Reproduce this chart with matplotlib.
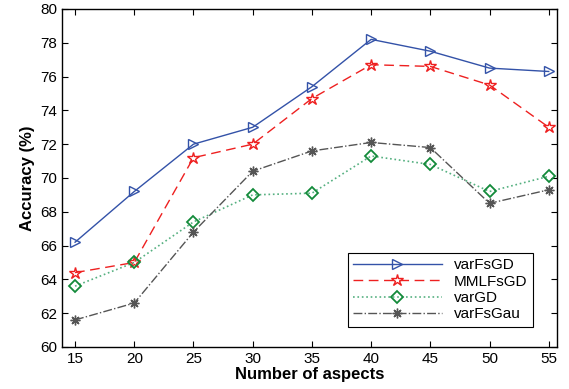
import matplotlib
matplotlib.use("Agg")
import matplotlib.pyplot as plt

aspects = [15, 20, 25, 30, 35, 40, 45, 50, 55]
varFsGD = [66.2, 69.2, 72.0, 73.0, 75.4, 78.2, 77.5, 76.5, 76.3]
MMLFsGD = [64.4, 65.0, 71.2, 72.0, 74.7, 76.7, 76.6, 75.5, 73.0]
varGD = [63.6, 65.0, 67.4, 69.0, 69.1, 71.3, 70.8, 69.2, 70.1]
varFsGau = [61.6, 62.6, 66.8, 70.4, 71.6, 72.1, 71.8, 68.5, 69.3]
yticks = [60, 62, 64, 66, 68, 70, 72, 74, 76, 78, 80]

plt.rcParams['font.family'] = ['Liberation Sans', 'DejaVu Sans']
fig = plt.figure(figsize=(5.69, 3.89), dpi=100)
ax = fig.add_axes([0.109, 0.108, 0.870, 0.869])

ax.plot(aspects, varFsGD, '-', color='#3352a8', lw=1.0, marker='>', ms=7.5,
        mfc='none', mec='#3352a8', mew=1.0, label='varFsGD')
ax.plot(aspects, MMLFsGD, '--', color='#ee2020', lw=1.0, marker='*', ms=9,
        mfc='none', mec='#ee2020', mew=1.0, dashes=(7, 4), label='MMLFsGD')
ax.plot(aspects, varGD, ':', color='#55b080', lw=1.2, marker='D', ms=6,
        mfc='none', mec='#138a3a', mew=1.3, label='varGD')
ax.plot(aspects, varFsGau, '-.', color='#555555', lw=1.0, marker=(8, 2, 0), ms=7,
        mec='#555555', mew=1.0, label='varFsGau')

ax.set_xlim(13.9, 55.7)
ax.set_ylim(60, 80)
ax.set_xticks(aspects)
ax.set_yticks(yticks)
ax.tick_params(direction='in', top=True, right=True, labelsize=11, length=4)
for s in ax.spines.values():
    s.set_linewidth(1.0)
ax.set_xlabel('Number of aspects', fontsize=12, fontweight='bold', labelpad=1)
ax.set_ylabel('Accuracy (%)', fontsize=12, fontweight='bold', labelpad=4)

leg = ax.legend(loc='lower right', bbox_to_anchor=(0.951, 0.06), fontsize=11,
                fancybox=False, framealpha=1, edgecolor='black',
                handlelength=5.8, borderpad=0.35, labelspacing=0.15,
                borderaxespad=0)
leg.get_frame().set_linewidth(0.8)

fig.savefig('out.png', dpi=100)
